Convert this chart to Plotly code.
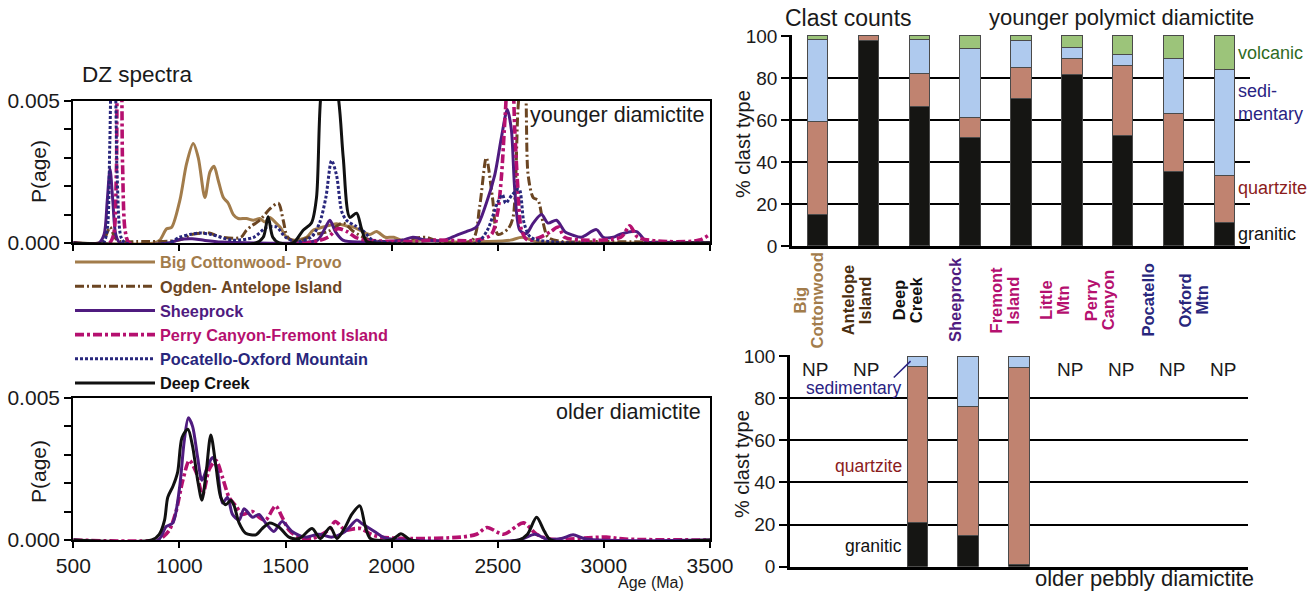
import plotly.graph_objects as go

# ---------------- DZ spectra: probability density vs age (Ma) ----------------
# younger diamictite
bc_age = [500, 880, 908, 940, 963, 1002, 1034, 1065, 1089, 1120, 1144, 1163, 1183, 1207, 1230, 1254, 1277,
          1316, 1348, 1379, 1403, 1426, 1450, 1474, 1505, 1536, 1599, 1630, 1678, 1740, 1787, 1819, 1850,
          1897, 1929, 1970, 2010, 2060, 2150, 2300, 2450, 2560, 2615, 2680, 2800, 3500]
bc_p = [0, 0, 0.0001, 0.0005, 0.00055, 0.0015, 0.0028, 0.0035, 0.0030, 0.0016, 0.0025, 0.0027, 0.0022,
        0.0016, 0.0014, 0.0010, 0.00086, 0.00086, 0.0008, 0.00086, 0.00074, 0.0009, 0.00074, 0.00056,
        0.0002, 0.0001, 0.0002, 0.00045, 0.00056, 0.00068, 0.0006, 0.00056, 0.00045, 0.0003, 0.0004,
        0.0002, 0.0002, 0.00005, 0.0001, 0.00003, 0.00005, 0.0001, 0.0002, 0.00005, 0.00002, 0]

og_age = [500, 620, 650, 673, 695, 720, 800, 1000, 1060, 1110, 1140, 1200, 1290, 1316, 1340, 1379, 1426,
          1466, 1489, 1510, 1550, 1640, 1700, 1772, 1820, 1900, 2000, 2163, 2220, 2380, 2415, 2446, 2475,
          2501, 2549, 2572, 2596, 2615, 2630, 2643, 2667, 2690, 2714, 2737, 2800, 3000, 3500]
og_p = [0, 0, 0.0002, 0.00056, 0.0002, 0.00005, 0.00005, 0.0001, 0.0003, 0.00035, 0.00035, 0.0002,
        0.0002, 0.00045, 0.0006, 0.0008, 0.0012, 0.0014, 0.0008, 0.0002, 0.00005, 0.0003, 0.0004, 0.0007,
        0.0004, 0.0001, 0.00005, 0.0002, 0.00005, 0.0001, 0.0013, 0.0030, 0.0016, 0.0003, 0.0005, 0.0009,
        0.0048, 0.0062, 0.0056, 0.0024, 0.0016, 0.0015, 0.0007, 0.0002, 0.00005, 0.00005, 0]

sh_age = [500, 620, 645, 660, 673, 686, 700, 720, 950, 1000, 1060, 1110, 1200, 1550, 1650, 1685, 1709,
          1735, 1770, 1850, 2050, 2100, 2160, 2250, 2305, 2352, 2399, 2446, 2486, 2517, 2545, 2564, 2580,
          2604, 2635, 2667, 2706, 2737, 2777, 2816, 2855, 2894, 2965, 2997, 3044, 3075, 3154, 3201, 3300, 3500]
sh_p = [0, 0, 0.0003, 0.0015, 0.0026, 0.0015, 0.0003, 0, 0, 0.00012, 0.00015, 0.0001, 0.00003, 0, 0.0001,
        0.0005, 0.0008, 0.0004, 0.0001, 0.00003, 0.0001, 0.0002, 0.0001, 0.0001, 0.00027, 0.0004, 0.00056,
        0.0014, 0.0024, 0.0037, 0.0047, 0.0040, 0.0019, 0.00045, 0.00033, 0.0007, 0.0010, 0.0007, 0.0008,
        0.0004, 0.00027, 0.0002, 0.00047, 0.0002, 0.0002, 0.0003, 0.0004, 0.00005, 0.00002, 0]

pc_age = [500, 670, 690, 703, 712, 722, 732, 745, 765, 1600, 1700, 1745, 1790, 1830, 1880, 2100, 2200,
          2400, 2470, 2500, 2518, 2535, 2548, 2560, 2572, 2580, 2595, 2612, 2640, 2700, 2750, 2785, 2815,
          2900, 3080, 3122, 3160, 3300, 3450, 3500]
pc_p = [0, 0, 0.0003, 0.0025, 0.0062, 0.0064, 0.0028, 0.0004, 0, 0, 0.0002, 0.0005, 0.0004, 0.0002,
        0.0001, 0.00005, 0.0001, 0.0001, 0.0003, 0.0011, 0.0024, 0.0045, 0.0058, 0.0060, 0.0055, 0.0040,
        0.0019, 0.00045, 0.0001, 0.0002, 0.0004, 0.00056, 0.0002, 0.0001, 0.0002, 0.0006, 0.0002, 0.00005,
        0.0001, 0.0003]

po_age = [500, 640, 660, 672, 683, 694, 706, 725, 745, 950, 1000, 1050, 1097, 1150, 1250, 1350, 1411,
          1458, 1500, 1550, 1620, 1660, 1690, 1717, 1740, 1765, 1787, 1830, 1870, 1910, 2000, 2400, 2451,
          2498, 2522, 2537, 2568, 2600, 2624, 2655, 2765, 3500]
po_p = [0, 0, 0.0005, 0.0035, 0.0060, 0.0058, 0.0025, 0.0002, 0, 0, 0.0002, 0.0003, 0.00035, 0.0003,
        0.0001, 0.0002, 0.00055, 0.00056, 0.0002, 0.00005, 0.0002, 0.0007, 0.0016, 0.0029, 0.0024, 0.0011,
        0.0008, 0.0006, 0.0004, 0.0001, 0, 0, 0.00045, 0.0014, 0.0017, 0.0014, 0.0017, 0.0019, 0.0007,
        0.0002, 0.00003, 0]

dc_age = [500, 1360, 1395, 1418, 1440, 1470, 1536, 1583, 1622, 1646, 1668, 1700, 1745, 1772, 1803, 1835,
          1858, 1882, 1920, 3500]
dc_p = [0, 0, 0.0002, 0.00092, 0.0002, 0, 0, 0.00045, 0.0007, 0.0016, 0.0053, 0.0063, 0.0053, 0.0030,
        0.0009, 0.00105, 0.0005, 0.00005, 0, 0]

# older diamictite
sh_o_age = [500, 900, 937, 969, 1000, 1023, 1042, 1062, 1086, 1106, 1133, 1156, 1180, 1203, 1227, 1250,
            1281, 1305, 1344, 1375, 1406, 1445, 1484, 1531, 1594, 1656, 1719, 1781, 1836, 1856, 1919, 1966,
            2050, 2600, 2675, 2730, 2800, 2855, 2917, 3500]
sh_o_p = [0, 0, 0.00047, 0.0006, 0.0018, 0.0035, 0.0043, 0.0040, 0.0029, 0.0021, 0.0026, 0.0029, 0.0024,
          0.0013, 0.0015, 0.0009, 0.0007, 0.0011, 0.0008, 0.0009, 0.0006, 0.0003, 0.00065, 0.0003, 0.0001,
          0.0002, 0.0001, 0.0003, 0.0007, 0.0006, 0.0003, 0.00008, 0, 0, 0.0002, 0.00003, 0.00005,
          0.00018, 0.00003, 0]

pc_o_age = [500, 900, 922, 953, 984, 1016, 1047, 1078, 1109, 1141, 1172, 1203, 1234, 1266, 1297, 1344,
            1375, 1406, 1453, 1484, 1516, 1562, 1625, 1703, 1734, 1781, 1828, 1856, 1903, 1950, 2100, 2324,
            2400, 2449, 2527, 2621, 2683, 2746, 3011, 3100, 3500]
pc_o_p = [0, 0, 0.0001, 0.00035, 0.0010, 0.0021, 0.0028, 0.0024, 0.0016, 0.0025, 0.0028, 0.0022, 0.0015,
          0.0012, 0.0009, 0.0010, 0.0008, 0.0007, 0.0012, 0.0008, 0.00035, 0.0001, 0.00005, 0.00035,
          0.00065, 0.00035, 0.0004, 0.0004, 0.0002, 0.0001, 0.00005, 0.0001, 0.0002, 0.00044, 0.0002,
          0.0006, 0.0002, 0.00003, 0.0001, 0.00003, 0]

dc_o_age = [500, 870, 905, 930, 945, 970, 992, 1012, 1040, 1062, 1086, 1106, 1125, 1148, 1172, 1195, 1219,
            1242, 1258, 1281, 1312, 1360, 1390, 1425, 1470, 1516, 1565, 1625, 1664, 1711, 1742, 1781, 1812,
            1850, 1875, 1900, 2000, 2044, 2090, 2600, 2640, 2683, 2720, 2750, 3500]
dc_o_p = [0, 0, 0.0002, 0.0007, 0.0015, 0.0019, 0.0024, 0.0036, 0.0039, 0.0033, 0.0021, 0.0014, 0.0023,
          0.0037, 0.0026, 0.0015, 0.00124, 0.0014, 0.0012, 0.0006, 0.00024, 0.00018, 0.0004, 0.0006,
          0.00045, 0.0001, 0.00005, 0.0004, 0.00005, 0.00045, 0.00005, 0.00045, 0.0009, 0.0012, 0.0005,
          0.00005, 0, 0.00022, 0, 0, 0.0002, 0.0008, 0.0003, 0, 0]

# ---------------- Clast counts (% clast type) ----------------
sites = ["Big Cottonwood", "Antelope Island", "Deep Creek", "Sheeprock", "Fremont Island",
         "Little Mtn", "Perry Canyon", "Pocatello", "Oxford Mtn"]
label_line1 = ["Big", "Antelope", "Deep", "", "Fremont", "Little", "Perry", "", "Oxford"]
label_line2 = ["Cottonwood", "Island", "Creek", "Sheeprock", "Island", "Mtn", "Canyon", "Pocatello", "Mtn"]
young_granitic = [15.0, 97.6, 66.6, 51.5, 70.4, 81.6, 52.8, 35.4, 11.3]
young_quartzite = [44.4, 2.4, 15.6, 9.6, 14.6, 7.8, 33.3, 27.6, 22.1]
young_sedimentary = [38.7, 0, 15.9, 33.1, 13.0, 4.9, 5.2, 26.3, 50.7]
young_volcanic = [1.9, 0, 1.9, 5.8, 2.0, 5.7, 8.7, 10.7, 15.9]

old_granitic = [None, None, 21.0, 15.0, 1.0, None, None, None, None]
old_quartzite = [None, None, 74.0, 61.0, 93.4, None, None, None, None]
old_sedimentary = [None, None, 5.0, 24.0, 5.6, None, None, None, None]
old_volcanic = [None, None, 0, 0, 0, None, None, None, None]
not_present = ["Big Cottonwood", "Antelope Island", "Little Mtn", "Perry Canyon", "Pocatello", "Oxford Mtn"]

# ---------------- styles ----------------
TAN, BROWN, PURPLE = "#A27C4B", "#6B4522", "#4F1B7F"
MAGENTA, NAVY, BLACK = "#B5106F", "#28267C", "#111111"
C_GRAN, C_QTZ, C_SED, C_VOLC = "#151513", "#C08370", "#AFCAEE", "#9CC47A"
SITE_COLORS = [TAN, "#4A2E10", BLACK, PURPLE, MAGENTA, MAGENTA, MAGENTA, NAVY, NAVY]
LABEL_SHIFT = [-8.5, -11.5, -11.5, -15, -16, -17.5, -23, -26, -30.5]
FONT = "Liberation Sans, Arial, sans-serif"

fig = go.Figure()

spectra_young = [
    ("Big Cottonwood- Provo", bc_age, bc_p, TAN, "solid", 3.0),
    ("Ogden- Antelope Island", og_age, og_p, BROWN, "9px,3px,2px,3px", 3.0),
    ("Sheeprock", sh_age, sh_p, PURPLE, "solid", 3.0),
    ("Perry Canyon-Fremont Island", pc_age, pc_p, MAGENTA, "9px,3px,3px,3px", 3.6),
    ("Pocatello-Oxford Mountain", po_age, po_p, NAVY, "3px,2px", 3.0),
    ("Deep Creek", dc_age, dc_p, BLACK, "solid", 3.0),
]
for name, xs, ys, col, dash, w in spectra_young:
    fig.add_trace(go.Scatter(
        x=xs, y=ys, mode="lines", xaxis="x", yaxis="y",
        line=dict(color=col, dash=dash, width=w, shape="spline", smoothing=0.8),
        name=f"<b><span style='color:{col}'>{name}</span></b>", showlegend=True))

spectra_old = [
    (pc_o_age, pc_o_p, MAGENTA, "9px,3px,3px,3px", 3.6),
    (sh_o_age, sh_o_p, PURPLE, "solid", 3.0),
    (dc_o_age, dc_o_p, BLACK, "solid", 3.0),
]
for xs, ys, col, dash, w in spectra_old:
    fig.add_trace(go.Scatter(
        x=xs, y=ys, mode="lines", xaxis="x2", yaxis="y2", showlegend=False,
        line=dict(color=col, dash=dash, width=w, shape="spline", smoothing=0.8)))

bar_style = dict(width=0.4, marker_line=dict(color="#4a4a4a", width=1), showlegend=False)
for vals, col in [(young_granitic, C_GRAN), (young_quartzite, C_QTZ),
                  (young_sedimentary, C_SED), (young_volcanic, C_VOLC)]:
    fig.add_trace(go.Bar(x=sites, y=vals, marker_color=col, xaxis="x3", yaxis="y3", **bar_style))
for vals, col in [(old_granitic, C_GRAN), (old_quartzite, C_QTZ),
                  (old_sedimentary, C_SED), (old_volcanic, C_VOLC)]:
    fig.add_trace(go.Bar(x=sites, y=vals, marker_color=col, xaxis="x4", yaxis="y4", **bar_style))

tickfont = dict(family=FONT, size=21, color="#1a1a1a")
spec_x = dict(range=[500, 3500], tickvals=[500, 1000, 1500, 2000, 2500, 3000, 3500],
              ticks="outside", ticklen=6, tickwidth=2, tickcolor="black",
              showline=True, linewidth=2.2, linecolor="black", mirror=True, automargin=False,
              showgrid=False, zeroline=False, tickfont=tickfont, fixedrange=True)
spec_y = dict(range=[0, 0.005], tickvals=[0, 0.001, 0.002, 0.003, 0.004, 0.005],
              ticktext=["0.000", "", "", "", "", "0.005"], automargin=False,
              ticks="outside", ticklen=7, tickwidth=2, tickcolor="black",
              showline=True, linewidth=2.2, linecolor="black", mirror=True,
              showgrid=False, zeroline=False, tickfont=tickfont)
bar_x = dict(type="category", categoryorder="array", categoryarray=sites, range=[-0.5, 8.5],
             showticklabels=False, ticks="", showline=True, linewidth=3, linecolor="black",
             showgrid=False, zeroline=False, automargin=False)
bar_y = dict(range=[0, 100.4], tickvals=[0, 20, 40, 60, 80, 100], ticks="outside", ticklen=8,
             tickwidth=2, tickcolor="black", showline=True, linewidth=2.5, linecolor="black",
             showgrid=True, gridcolor="black", gridwidth=2, zeroline=False, automargin=False,
             tickfont=dict(family=FONT, size=19, color="#1a1a1a"))

fig.update_layout(
    width=1316, height=594, margin=dict(l=0, r=0, t=0, b=0, autoexpand=False),
    paper_bgcolor="white", plot_bgcolor="rgba(0,0,0,0)",
    barmode="stack", bargap=0.6,
    xaxis=dict(domain=[0.0557, 0.5395], anchor="y", showticklabels=False, **spec_x),
    yaxis=dict(domain=[0.591, 0.830], anchor="x", **spec_y),
    xaxis2=dict(domain=[0.0557, 0.5395], anchor="y2", **spec_x),
    yaxis2=dict(domain=[0.091, 0.330], anchor="x2", **spec_y),
    xaxis3=dict(domain=[0.6018, 0.9498], anchor="y3", **bar_x),
    yaxis3=dict(domain=[0.586, 0.941], anchor="x3", **bar_y),
    xaxis4=dict(domain=[0.6003, 0.9483], anchor="y4", **bar_x),
    yaxis4=dict(domain=[0.046, 0.402], anchor="x4", **bar_y),
    legend=dict(x=70 / 1316, y=1 - 245 / 594, xanchor="left", yanchor="top", traceorder="normal",
                bgcolor="rgba(0,0,0,0)", itemwidth=80, tracegroupgap=0,
                font=dict(family=FONT, size=16.3), itemclick=False),
    showlegend=True,
)

anns = []


def text(x, y, s, size, color="#1a1a1a", xanchor="left", xref="paper", yref="paper", **kw):
    anns.append(dict(x=x, y=y, text=s, xref=xref, yref=yref, xanchor=xanchor, yanchor="middle",
                     showarrow=False, font=dict(family=FONT, size=size, color=color), **kw))


# left panels
text(80 / 1316, 1 - 74 / 594, "DZ spectra", 22.5)
text(706 / 1316, 1 - 115 / 594, "younger diamictite", 21.5, xanchor="right")
text(703 / 1316, 1 - 412 / 594, "older diamictite", 21.5, xanchor="right")
text(38 / 1316, 1 - 172 / 594, "P(age)", 21, xanchor="center", textangle=-90)
text(38 / 1316, 1 - 472 / 594, "P(age)", 21, xanchor="center", textangle=-90)
text(686 / 1316, 1 - 582 / 594, "Age (Ma)", 16, xanchor="right")

# right panels
text(783 / 1316, 1 - 18 / 594, "Clast counts", 23)
text(1256 / 1316, 1 - 18 / 594, "younger polymict diamictite", 22, xanchor="right")
text(1256 / 1316, 1 - 578 / 594, "older pebbly diamictite", 22, xanchor="right")
text(743 / 1316, 1 - 144 / 594, "% clast type", 20, xanchor="center", textangle=-90)
text(742 / 1316, 1 - 464 / 594, "% clast type", 20, xanchor="center", textangle=-90)

text(1236 / 1316, 1 - 53 / 594, "volcanic", 18, color="#2F6B25")
text(1236 / 1316, 1 - 102 / 594, "sedi-<br>mentary", 18, color="#2A2383", align="left")
text(1236 / 1316, 1 - 188 / 594, "quartzite", 18, color="#8B1C1C")
text(1236 / 1316, 1 - 234 / 594, "granitic", 18, color="#111111")

text(904 / 1316, 1 - 388 / 594, "sedimentary", 17.5, color="#2A2383", xanchor="right")
text(904 / 1316, 1 - 466 / 594, "quartzite", 17.5, color="#8B1C1C", xanchor="right")
text(904 / 1316, 1 - 546 / 594, "granitic", 17.5, color="#111111", xanchor="right")

# rotated site names under the upper clast-count panel (two columns per name)
for site, l1, l2, col, dx in zip(sites, label_line1, label_line2, SITE_COLORS, LABEL_SHIFT):
    lines = [(l1, dx - 8.5), (l2, dx + 8.5)] if l1 else [(l2, dx)]
    for s, shift in lines:
        anns.append(dict(x=site, y=1 - 300 / 594, xref="x3", yref="paper", text=f"<b>{s}</b>",
                         textangle=-90, showarrow=False, xanchor="center", yanchor="middle",
                         xshift=shift, font=dict(family=FONT, size=16.5, color=col)))

for site in not_present:
    anns.append(dict(x=site, y=93.4, xref="x4", yref="y4", text="NP", showarrow=False,
                     font=dict(family=FONT, size=19, color="#1a1a1a")))

fig.update_layout(annotations=anns)

# leader line from the "sedimentary" label to the Deep Creek bar
fig.add_shape(type="line", xref="x4", yref="y4", x0=1.54, y0=89.8, x1=1.87, y1=97.6,
              line=dict(color="#2A2383", width=1.5))

fig.write_html("out.html")
